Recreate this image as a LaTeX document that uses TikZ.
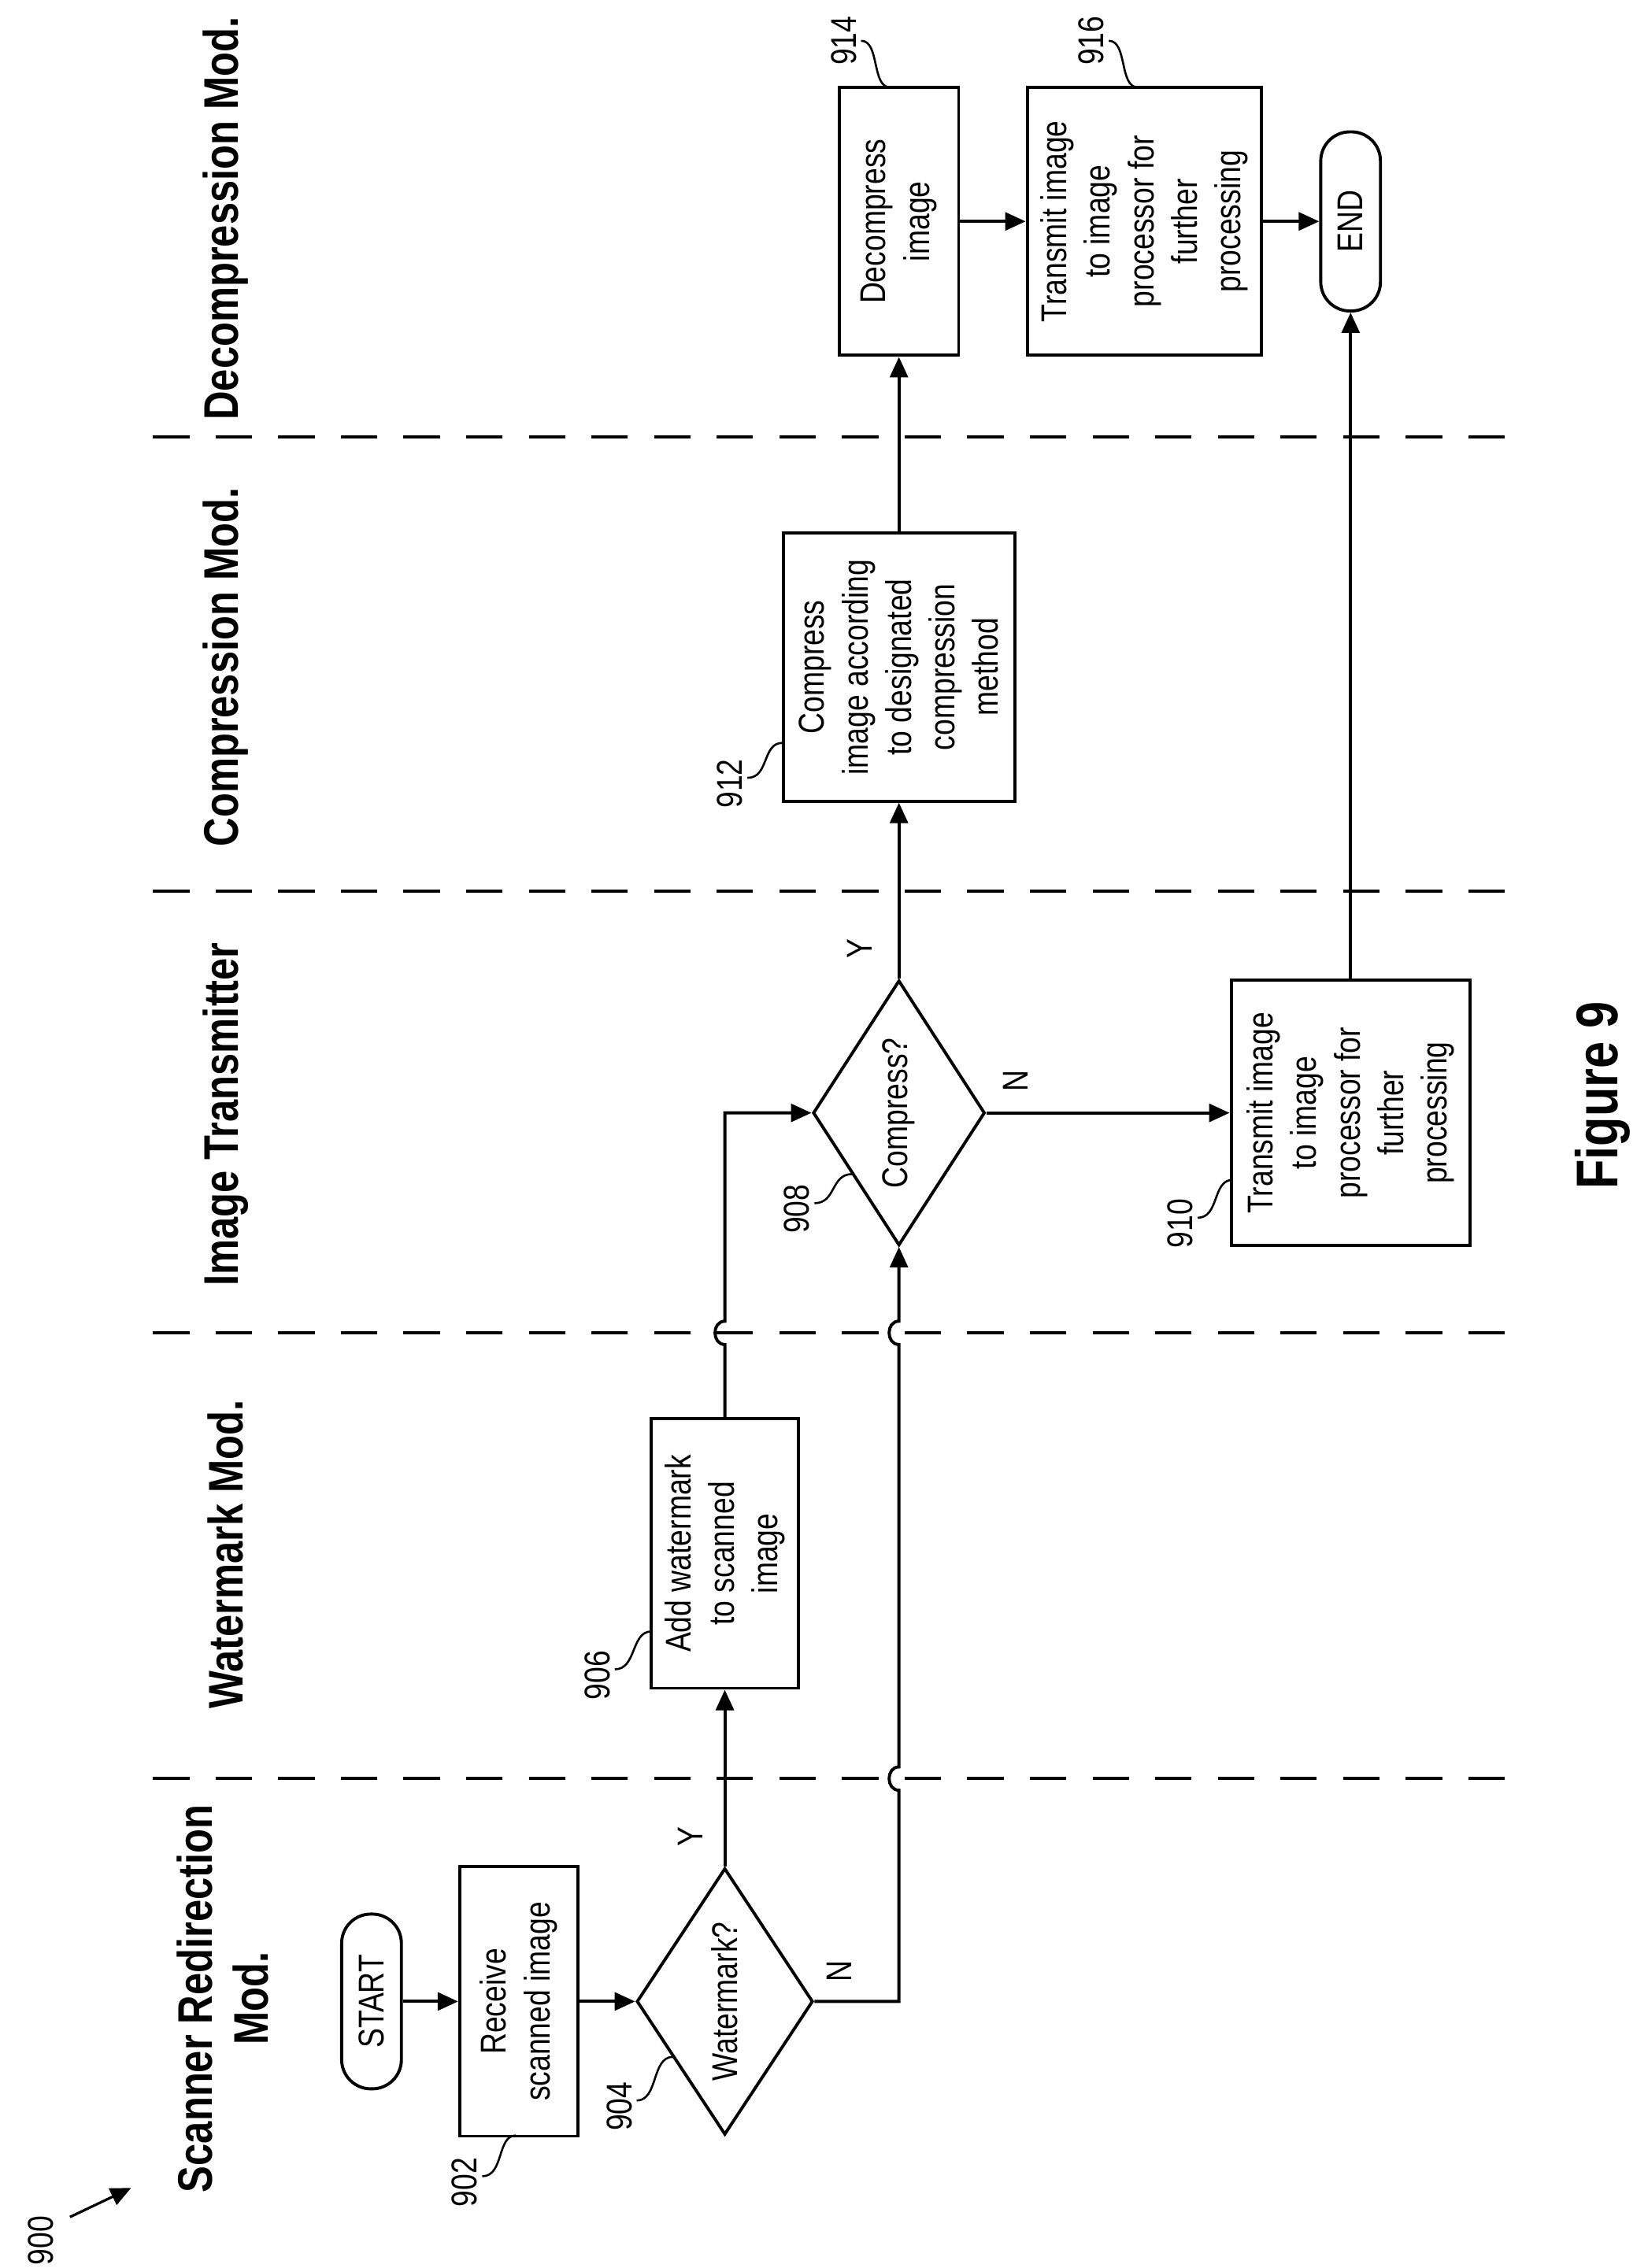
\documentclass[tikz,border=0pt]{standalone}
\usepackage{fontspec}
\setmainfont{Liberation Sans}
\newfontfamily\nar{Liberation Sans}[FakeStretch=0.82]
\usetikzlibrary{shapes.geometric,arrows.meta}
\begin{document}
\begin{tikzpicture}[x=0.02cm,y=-0.02cm,line width=1.2pt,
 >={Triangle[length=8pt,width=7pt]},
 txt/.style={font=\nar\fontsize{14}{17}\selectfont},
 box/.style={draw,rectangle,rotate=90,align=center,txt,inner sep=1pt},
 term/.style={draw,rectangle,rounded corners=0.4cm,rotate=90,txt,minimum width=2.4cm,minimum height=0.82cm},
 dec/.style={draw,diamond,aspect=1.5,rotate=90,txt,inner sep=0pt},
 lane/.style={rotate=90,align=center,font=\nar\bfseries\fontsize{19}{22}\selectfont},
 ref/.style={rotate=90,txt},
 lab/.style={rotate=90,txt},
 lead/.style={line width=0.8pt},
 sep/.style={line width=1.2pt,dash pattern=on 0.5cm off 0.36cm},
 hop/.style={}]
\useasboundingbox (0,0) rectangle (1131,1557);
% lane separators
\foreach \yy in {300,612,915,1221} \draw[sep] (105,\yy) -- (1048,\yy);
% lane labels
\node[lane] (l1) at (153,1372) {Scanner Redirection\\Mod.};
\node[lane] (l2) at (155,1067) {Watermark Mod.};
\node[lane] (l3) at (155,765) {Image Transmitter};
\node[lane] (l4) at (155,458) {Compression Mod.};
\node[lane] (l5) at (155,150) {Decompression Mod.};
% nodes
\node[term] (start) at (255,1374) {START};
\node[box,minimum width=3.7cm,minimum height=1.62cm] (recv) at (356,1374) {Receive\\scanned image};
\node[dec,minimum width=3.66cm,minimum height=2.42cm] (wm) at (497.5,1374) {Watermark?};
\node[box,minimum width=3.7cm,minimum height=2.02cm] (add) at (497.5,1066.5) {Add watermark\\to scanned\\image};
\node[dec,minimum width=3.64cm,minimum height=2.36cm] (cp) at (617,764) {Compress?};
\node[box,minimum width=3.64cm,minimum height=3.28cm] (tx1) at (927,764) {Transmit image\\to image\\processor for\\further\\processing};
\node[box,minimum width=3.68cm,minimum height=3.18cm] (comp) at (617,458) {Compress\\image according\\to designated\\compression\\method};
\node[box,minimum width=3.68cm,minimum height=1.64cm] (dcmp) at (617,152) {Decompress\\image};
\node[box,minimum width=3.68cm,minimum height=3.22cm] (tx2) at (785.5,152) {Transmit image\\to image\\processor for\\further\\processing};
\node[term,minimum width=2.46cm] (end) at (927,152) {END};
% connectors
\draw[->] (start) -- (recv);
\draw[->] (recv) -- (wm);
\draw[->] (wm.east) -- (add.west);
\draw[->] (wm.south) -- (617,1374) -- (617,1229) .. controls (608,1229) and (608,1213) .. (617,1213)
  -- (617,923) .. controls (608,923) and (608,907) .. (617,907) -- (cp.west);
\draw[->] (add.east) -- (497.5,923) .. controls (488.5,923) and (488.5,907) .. (497.5,907)
  -- (497.5,764) -- (cp.north);
\draw[->] (cp.east) -- (comp.west);
\draw[->] (cp.south) -- (tx1.north);
\draw[->] (comp.east) -- (dcmp.west);
\draw[->] (dcmp.south) -- (tx2.north);
\draw[->] (tx2.south) -- (end.north);
\draw[->] (tx1.east) -- (end.west);
% branch labels
\node[lab] (y1) at (474,1261) {Y};
\node[lab] (n1) at (576,1353) {N};
\node[lab] (y2) at (590,651) {Y};
\node[lab] (n2) at (697,742) {N};
% reference numerals
\node[ref] (r900) at (28,1538) {900};
\coordinate (a900) at (48,1522);
\coordinate (b900) at (90,1502);
\draw[->,line width=1pt] (a900) -- (b900);
\node[ref] (r902) at (319,1498) {902};
\draw[lead] (331,1494) .. controls (346,1494) and (341,1466) .. (354,1466);
\node[ref] (r904) at (425,1446) {904};
\draw[lead] (437,1442) .. controls (452,1442) and (447,1412) .. (462,1412);
\node[ref] (r906) at (410,1150) {906};
\draw[lead] (422,1146) .. controls (437,1146) and (433,1120) .. (447,1120);
\node[ref] (r908) at (547,830) {908};
\draw[lead] (559,826) .. controls (574,826) and (570,806) .. (585,806);
\node[ref] (r910) at (810,840) {910};
\draw[lead] (822,836) .. controls (837,836) and (832,810) .. (846,810);
\node[ref] (r912) at (501,538) {912};
\draw[lead] (513,534) .. controls (528,534) and (523,510) .. (537,510);
\node[ref] (r914) at (579,28) {914};
\draw[lead] (591,28) .. controls (604,28) and (598,60) .. (611,60);
\node[ref] (r916) at (749,28) {916};
\draw[lead] (761,28) .. controls (774,28) and (768,60) .. (781,60);
% figure caption
\node[rotate=90,font=\nar\bfseries\fontsize{23}{27}\selectfont] (fig) at (1100,752) {Figure 9};
\end{tikzpicture}
\end{document}
